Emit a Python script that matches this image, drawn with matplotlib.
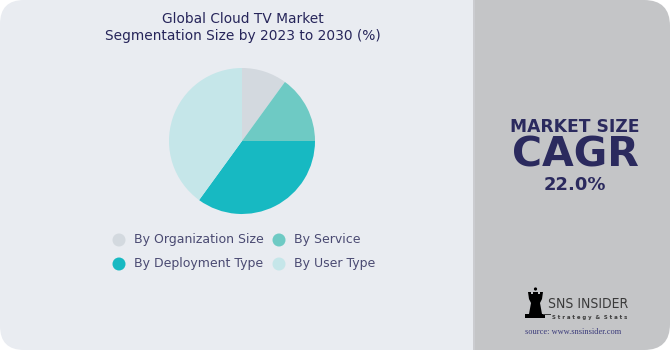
"""Global Cloud TV market segmentation pie, SNS Insider style card."""
import matplotlib
matplotlib.use("Agg")
import matplotlib.pyplot as plt
from matplotlib.patches import FancyBboxPatch, Rectangle, Polygon, Circle

segments = ["By Organization Size", "By Service", "By Deployment Type", "By User Type"]
shares = [10, 15, 35, 40]
colors = ["#d3d9df", "#6ecac4", "#17b9c2", "#c5e6e9"]
cagr_text = "22.0%"

W, H = 670, 350
NAVY = "#2b2a5e"
FONT = "DejaVu Sans"

fig = plt.figure(figsize=(W / 100, H / 100), dpi=100)
fig.patch.set_facecolor("white")

# background canvas in pixel coordinates (y down)
bg = fig.add_axes([0, 0, 1, 1])
bg.set_xlim(0, W)
bg.set_ylim(H, 0)
bg.axis("off")

bg.add_patch(FancyBboxPatch((0, 0), 500, H, boxstyle="round,pad=0,rounding_size=24",
                            fc="#e9ecf1", ec="none"))
bg.add_patch(FancyBboxPatch((474, 0), W - 474, H, boxstyle="round,pad=0,rounding_size=26",
                            fc="#c4c5c7", ec="none"))
bg.add_patch(Rectangle((474, 0), 30, H, fc="#c4c5c7", ec="none"))
bg.add_patch(Rectangle((473, 0), 2, H, fc="#cbccd0", ec="none"))

bg.text(243, 27.5, "Global Cloud TV Market\nSegmentation Size by 2023 to 2030 (%)",
        ha="center", va="center", fontsize=9.9, color="#26255a", family=FONT,
        linespacing=1.25)

# legend
leg_pos = [(119, 240), (279, 240), (119, 264), (279, 264)]
for (x, y), lab, c in zip(leg_pos, segments, colors):
    bg.add_patch(Circle((x, y), 6.5, fc=c, ec="none"))
    bg.text(x + 15, y, lab, ha="left", va="center", fontsize=9, color="#4a4a72", family=FONT)

# right panel text
bg.text(575, 127.5, "MARKET SIZE", ha="center", va="center", fontsize=12.3,
        fontweight="bold", color=NAVY, family=FONT)
bg.text(575, 155.5, "CAGR", ha="center", va="center", fontsize=29.5,
        fontweight="bold", color=NAVY, family=FONT)
bg.text(575, 185, cagr_text, ha="center", va="center", fontsize=13,
        fontweight="bold", color=NAVY, family=FONT)

# logo (rough rook) + name
rook = [(525, 318), (545, 318), (545, 314), (542, 314), (540, 303), (542, 299),
        (543, 292), (540, 292), (540, 294), (538, 294), (538, 292), (533, 292),
        (533, 294), (531, 294), (531, 292), (528, 292), (529, 299), (531, 303),
        (529, 314), (525, 314)]
bg.add_patch(Polygon(rook, closed=True, fc="black", ec="none"))
bg.add_patch(Circle((535.5, 289), 1.6, fc="black", ec="none"))
bg.add_patch(Rectangle((543, 314), 8, 1.2, fc="#3a3a3a", ec="none"))
bg.text(548, 304, "SNS INSIDER", ha="left", va="center", fontsize=10,
        color="#3a3a3a", family=FONT, fontstretch="condensed")
bg.text(552, 317, "S t r a t e g y  &  S t a t s", ha="left", va="center", fontsize=3.9,
        fontweight="bold", color="#3a3a3a", family=FONT)
bg.text(573, 332, "source: www.snsinsider.com", ha="center", va="center", fontsize=6,
        color="#3a3a7a", family="Liberation Serif")

# pie
cx, cy, r = 242, 141, 73
ax = fig.add_axes([(cx - r) / W, (H - cy - r) / H, 2 * r / W, 2 * r / H])
ax.pie(shares, colors=colors, startangle=90, counterclock=False, radius=1,
       wedgeprops=dict(linewidth=0))
ax.set_xlim(-1, 1)
ax.set_ylim(-1, 1)
ax.axis("off")

fig.savefig("out.png", dpi=100, facecolor="white")
